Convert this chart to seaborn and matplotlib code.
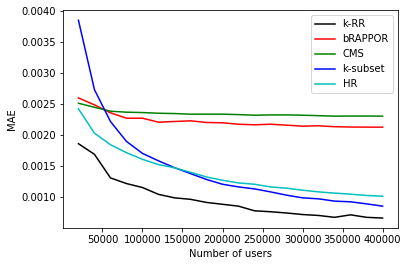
import numpy as np
import pandas as pd
import matplotlib
matplotlib.use("Agg")
import matplotlib.pyplot as plt
import seaborn as sns

# number of users
users = list(range(20000, 400001, 20000))

krr = [0.001866, 0.001695, 0.001315, 0.001224, 0.001160, 0.001050, 0.000994,
       0.000970, 0.000920, 0.000890, 0.000860, 0.000785, 0.000770, 0.000750,
       0.000725, 0.000710, 0.000680, 0.000720, 0.000680, 0.000668]
brappor = [0.002604, 0.002492, 0.002364, 0.002277, 0.002277, 0.002213, 0.002224,
           0.002235, 0.002208, 0.002203, 0.002180, 0.002171, 0.002180, 0.002165,
           0.002149, 0.002155, 0.002140, 0.002135, 0.002133, 0.002133]
cms = [0.002518, 0.002453, 0.002390, 0.002374, 0.002368, 0.002357, 0.002352,
       0.002342, 0.002342, 0.002342, 0.002335, 0.002325, 0.002330, 0.002330,
       0.002325, 0.002318, 0.002310, 0.002312, 0.002312, 0.002310]
ksubset = [0.003855, 0.002737, 0.002224, 0.001903, 0.001710, 0.001590, 0.001480,
           0.001385, 0.001290, 0.001213, 0.001170, 0.001138, 0.001090, 0.001037,
           0.000994, 0.000978, 0.000941, 0.000930, 0.000897, 0.000860]
hr = [0.002428, 0.002036, 0.001850, 0.001722, 0.001614, 0.001530, 0.001478,
      0.001406, 0.001330, 0.001277, 0.001234, 0.001213, 0.001170, 0.001150,
      0.001117, 0.001090, 0.001070, 0.001053, 0.001032, 0.001020]

methods = ["k-RR", "bRAPPOR", "CMS", "k-subset", "HR"]
colors = ["k", "r", "g", "b", "c"]

df = pd.DataFrame({
    "users": users * 5,
    "MAE": krr + brappor + cms + ksubset + hr,
    "method": sum([[m] * len(users) for m in methods], []),
})

fig = plt.figure(figsize=(408 / 72, 266 / 72), dpi=72)
ax = fig.add_subplot(111)
sns.lineplot(data=df, x="users", y="MAE", hue="method", hue_order=methods,
             palette=dict(zip(methods, colors)), ax=ax)
ax.set_xlabel("Number of users")
ax.set_ylabel("MAE")
ax.legend(loc="upper right")
fig.subplots_adjust(left=0.155, right=0.975, top=0.961, bottom=0.143)
fig.savefig("out.png", dpi=72)
